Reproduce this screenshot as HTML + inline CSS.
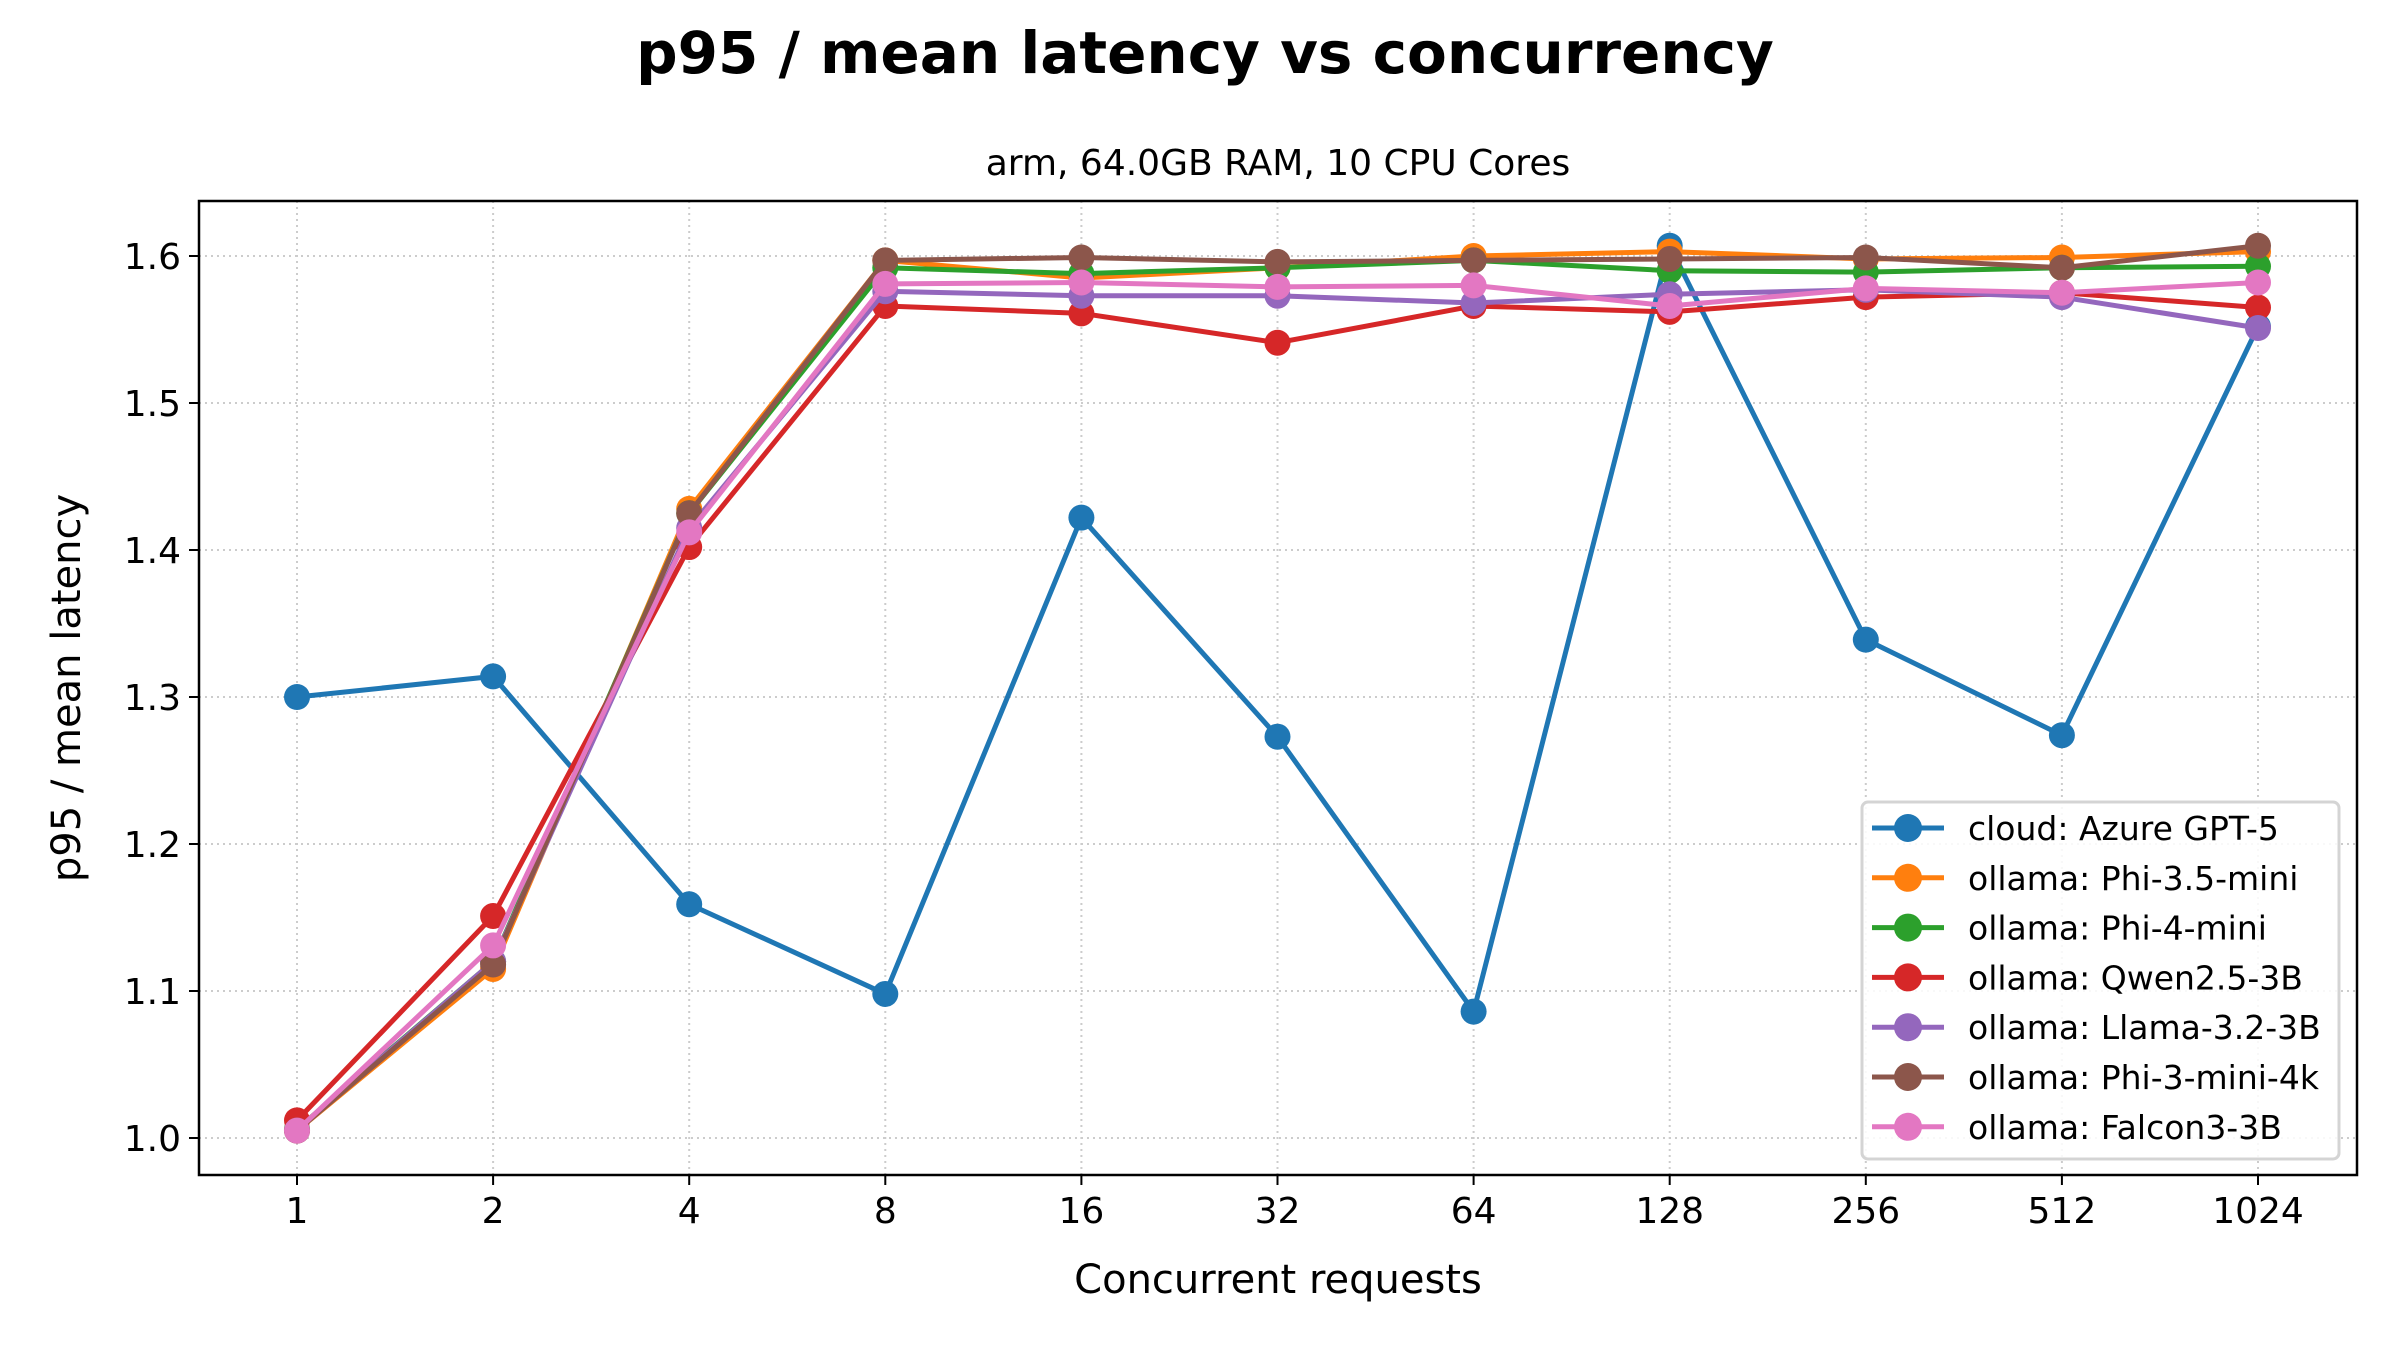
<!DOCTYPE html>
<html><head><meta charset="utf-8"><style>html,body{margin:0;padding:0;background:#fff}svg{display:block}text{font-family:"DejaVu Sans","Liberation Sans",sans-serif}</style></head>
<body>
<svg id="chart" width="2400" height="1350" viewBox="0 0 2400 1350"></svg>
<script>
const categories = ["1","2","4","8","16","32","64","128","256","512","1024"];
const yTicks = [1.0,1.1,1.2,1.3,1.4,1.5,1.6];
const seriesNames = ["cloud: Azure GPT-5","ollama: Phi-3.5-mini","ollama: Phi-4-mini","ollama: Qwen2.5-3B","ollama: Llama-3.2-3B","ollama: Phi-3-mini-4k","ollama: Falcon3-3B"];
const azure = [1.300,1.314,1.159,1.098,1.422,1.273,1.086,1.607,1.339,1.274,1.552];
const phi35 = [1.005,1.115,1.428,1.597,1.585,1.592,1.600,1.603,1.598,1.599,1.603];
const phi4 = [1.006,1.120,1.425,1.592,1.588,1.592,1.597,1.590,1.589,1.592,1.593];
const qwen = [1.012,1.151,1.402,1.566,1.561,1.541,1.566,1.562,1.572,1.575,1.565];
const llama = [1.005,1.120,1.415,1.576,1.573,1.573,1.568,1.574,1.577,1.572,1.551];
const phi3 = [1.005,1.118,1.425,1.597,1.599,1.596,1.597,1.598,1.599,1.592,1.607];
const falcon = [1.005,1.131,1.412,1.581,1.582,1.579,1.580,1.566,1.578,1.575,1.582];
const seriesValues = [azure,phi35,phi4,qwen,llama,phi3,falcon];
const colors = ["#1f77b4","#ff7f0e","#2ca02c","#d62728","#9467bd","#8c564b","#e377c2"];

const NS="http://www.w3.org/2000/svg", svg=document.getElementById('chart');
const L=199,R=2357,T=201,B=1175;
const x=i=>297+i*(2258-297)/(categories.length-1);
const y=v=>1138-(v-1.0)*(1138-256)/0.6;
function el(tag,attrs,parent,text){const e=document.createElementNS(NS,tag);for(const k in attrs)e.setAttribute(k,attrs[k]);if(text!==undefined)e.textContent=text;(parent||svg).appendChild(e);return e;}

let t=el('text',{x:1205,y:73,'text-anchor':'middle','font-size':58,'font-weight':'bold'},svg,'p95 / mean latency vs concurrency');

t=el('text',{x:1278,y:175,'text-anchor':'middle','font-size':36},svg,'arm, 64.0GB RAM, 10 CPU Cores');


const grid=el('g',{stroke:'#cccccc','stroke-width':2,'stroke-dasharray':'2,4'});

categories.forEach((c,i)=>{
  el('line',{x1:x(i),x2:x(i),y1:T,y2:B},grid);
  el('line',{x1:x(i),x2:x(i),y1:B,y2:B+10,stroke:'#000','stroke-width':2});
  const tl=el('text',{x:x(i),y:B+48,'text-anchor':'middle','font-size':36},svg,c);
  
});
yTicks.forEach(v=>{
  el('line',{x1:L,x2:R,y1:y(v),y2:y(v)},grid);
  el('line',{x1:L-10,x2:L,y1:y(v),y2:y(v),stroke:'#000','stroke-width':2});
  const tl=el('text',{x:L-18,y:y(v)+13,'text-anchor':'end','font-size':36},svg,v.toFixed(1));
  
});
t=el('text',{x:1278,y:1293,'text-anchor':'middle','font-size':40},svg,'Concurrent requests');

t=el('text',{x:80,y:688,'text-anchor':'middle','font-size':40,transform:'rotate(-90 80 688)'},svg,'p95 / mean latency');


seriesValues.forEach((vals,s)=>{
  const g=el('g',{});
  
  el('polyline',{points:vals.map((v,i)=>x(i)+','+y(v)).join(' '),fill:'none',stroke:colors[s],'stroke-width':5,'stroke-linejoin':'round'},g);
  vals.forEach((v,i)=>{const c=el('circle',{cx:x(i),cy:y(v),r:13,fill:colors[s]},g);
    });
});
const frame=el('rect',{x:L,y:T,width:R-L,height:B-T,fill:'none',stroke:'#000','stroke-width':2.5});


const lg=el('g',{});

el('rect',{x:1862,y:802,width:477,height:357,rx:6,fill:'#fff','fill-opacity':0.85,stroke:'#d4d4d4','stroke-width':3},lg);
seriesNames.forEach((n,s)=>{
  const yy=828+s*49.8;
  const e=el('g',{},lg);
  
  el('line',{x1:1872,x2:1944,y1:yy,y2:yy,stroke:colors[s],'stroke-width':5},e);
  el('circle',{cx:1908,cy:yy,r:14,fill:colors[s]},e);
  el('text',{x:1968,y:yy+12,'font-size':33},e,n);
});
</script>
</body></html>
